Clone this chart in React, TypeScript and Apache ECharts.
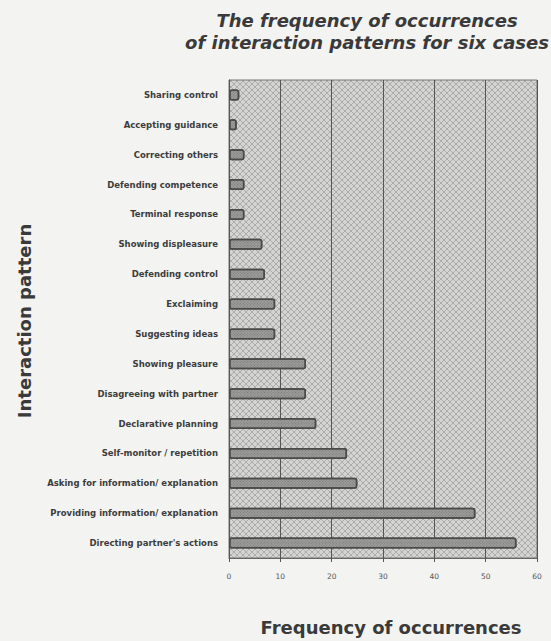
import React, { useEffect, useRef } from "react";
import * as echarts from "echarts";

const categories = [
  "Sharing control",
  "Accepting guidance",
  "Correcting others",
  "Defending competence",
  "Terminal response",
  "Showing displeasure",
  "Defending control",
  "Exclaiming",
  "Suggesting ideas",
  "Showing pleasure",
  "Disagreeing with partner",
  "Declarative planning",
  "Self-monitor / repetition",
  "Asking for information/ explanation",
  "Providing information/ explanation",
  "Directing partner's actions",
];
const frequencies = [2, 1.5, 3, 3, 3, 6.5, 7, 9, 9, 15, 15, 17, 23, 25, 48, 56];
const xTicks = [0, 10, 20, 30, 40, 50, 60];

const FONT = "DejaVu Sans, Verdana, sans-serif";

function makePattern(): HTMLCanvasElement {
  const c = document.createElement("canvas");
  c.width = 6;
  c.height = 6;
  const ctx = c.getContext("2d")!;
  ctx.fillStyle = "#d4d4d2";
  ctx.fillRect(0, 0, 6, 6);
  ctx.strokeStyle = "#acacaa";
  ctx.lineWidth = 1;
  ctx.beginPath();
  ctx.moveTo(0, 0);
  ctx.lineTo(6, 6);
  ctx.moveTo(6, 0);
  ctx.lineTo(0, 6);
  ctx.stroke();
  return c;
}

export default function App() {
  const ref = useRef<HTMLDivElement>(null);
  useEffect(() => {
    document.body.style.margin = "0";
    document.body.style.background = "#f3f3f1";
    const chart = echarts.init(ref.current!, undefined, { renderer: "svg" });
    let bg: any = "#d2d2d0";
    try {
      bg = { image: makePattern(), repeat: "repeat" };
    } catch (e) {
      bg = "#d2d2d0";
    }
    chart.setOption({
      animation: false,
      backgroundColor: "#f3f3f1",
      title: {
        text: "The frequency of occurrences\nof interaction patterns for six cases",
        left: 362,
        textAlign: "center",
        top: 4,
        textStyle: {
          fontFamily: FONT,
          fontStyle: "italic",
          fontWeight: "bold",
          fontSize: 18,
          lineHeight: 22,
          color: "#3a3a3a",
        },
      },
      grid: {
        left: 229,
        right: 14,
        top: 80,
        bottom: 83,
        show: true,
        backgroundColor: bg,
        borderColor: "#777",
        borderWidth: 1,
      },
      xAxis: {
        type: "value",
        min: 0,
        max: 60,
        interval: 10,
        axisLine: { show: true, lineStyle: { color: "#666", width: 1 } },
        axisTick: { show: true, length: 4, lineStyle: { color: "#555" } },
        splitLine: { show: true, lineStyle: { color: "#555", width: 1 } },
        axisLabel: {
          margin: 14,
          fontSize: 7.5,
          color: "#555",
          fontFamily: FONT,
          formatter: (v: number) => (xTicks.includes(v) ? String(v) : ""),
        },
      },
      yAxis: {
        type: "category",
        data: categories,
        inverse: true,
        axisLine: { show: true, lineStyle: { color: "#555", width: 1 } },
        axisTick: { show: false },
        splitLine: { show: false },
        axisLabel: {
          margin: 11,
          fontSize: 8.5,
          fontWeight: "bold",
          color: "#3c3c3c",
          fontFamily: FONT,
        },
      },
      series: [
        {
          type: "bar",
          data: frequencies,
          barWidth: 11,
          itemStyle: {
            color: "#9c9c9a",
            borderColor: "#4a4a4a",
            borderWidth: 1.5,
            borderRadius: 2,
            decal: {
              symbol: "rect",
              symbolSize: 1,
              dashArrayX: [1, 1],
              dashArrayY: [1, 1],
              rotation: Math.PI / 4,
              color: "rgba(60,60,60,0.35)",
            },
          },
        },
      ],
      graphic: [
        {
          type: "text",
          x: 24,
          y: 321,
          rotation: Math.PI / 2,
          style: {
            text: "Interaction pattern",
            align: "center",
            verticalAlign: "middle",
            fontFamily: FONT,
            fontWeight: "bold",
            fontSize: 18,
            fill: "#3a3a3a",
          },
        },
        {
          type: "text",
          x: 391,
          y: 627,
          style: {
            text: "Frequency of occurrences",
            align: "center",
            verticalAlign: "middle",
            fontFamily: FONT,
            fontWeight: "bold",
            fontSize: 18,
            fill: "#3a3a3a",
          },
        },
      ],
    });
    return () => chart.dispose();
  }, []);
  return (
    <div
      ref={ref}
      style={{ position: "fixed", left: 0, top: 0, width: 551, height: 641 }}
    />
  );
}
